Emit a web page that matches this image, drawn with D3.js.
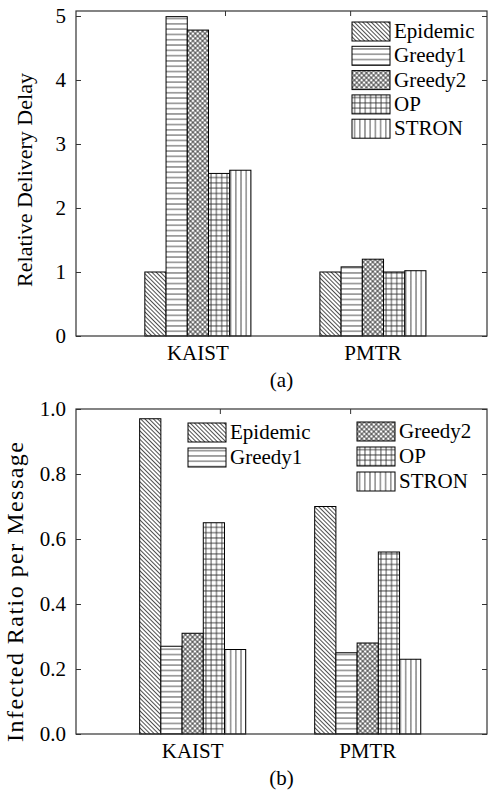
<!DOCTYPE html>
<html>
<head>
<meta charset="utf-8">
<script src="https://cdn.jsdelivr.net/npm/d3@7"></script>
<style>
  body { margin: 0; background: #fff; }
  svg text { font-family: "Liberation Serif", "Times New Roman", Times, serif; fill: #000; }
</style>
</head>
<body>
<div id="chart"></div>
<script>
// data
var categories = ["KAIST", "PMTR"];
var seriesNames = ["Epidemic", "Greedy1", "Greedy2", "OP", "STRON"];

var delayKAIST = [1.0, 4.99, 4.78, 2.54, 2.59];
var delayPMTR = [1.0, 1.08, 1.2, 1.0, 1.02];
var delayTicks = [0, 1, 2, 3, 4, 5];

var infectedKAIST = [0.97, 0.27, 0.31, 0.65, 0.26];
var infectedPMTR = [0.70, 0.25, 0.28, 0.56, 0.23];
var infectedTicks = [0, 0.2, 0.4, 0.6, 0.8, 1.0];

var fontStack = "'Liberation Serif', 'Times New Roman', Times, serif";

var svgWidth = 488;
var svgHeight = 792;

var svg = d3.select("#chart").append("svg")
  .attr("width", svgWidth)
  .attr("height", svgHeight)
  .attr("font-family", fontStack);

// hatch patterns, one per series
var defs = svg.append("defs");
var hatchColor = "#222";

function linePattern(id, size, angle, lines) {
  var p = defs.append("pattern")
    .attr("id", id)
    .attr("patternUnits", "userSpaceOnUse")
    .attr("width", size)
    .attr("height", size)
    .attr("patternTransform", "rotate(" + angle + ")");
  p.append("rect").attr("width", size).attr("height", size).attr("fill", "#fff");
  lines.forEach(function(l) {
    p.append("line")
      .attr("x1", l[0] * size).attr("y1", l[1] * size)
      .attr("x2", l[2] * size).attr("y2", l[3] * size)
      .attr("stroke", hatchColor)
      .attr("stroke-width", 0.8);
  });
}

// Epidemic: "\\\" diagonals
linePattern("pat0", 3, -45, [[0.5, 0, 0.5, 1]]);
// Greedy1: horizontal lines
linePattern("pat1", 5.3, 0, [[0, 0.5, 1, 0.5]]);
// Greedy2: diagonal cross hatch
linePattern("pat2", 3.4, 45, [[0.5, 0, 0.5, 1], [0, 0.5, 1, 0.5]]);
// OP: square grid
linePattern("pat3", 5.3, 0, [[0.5, 0, 0.5, 1], [0, 0.5, 1, 0.5]]);
// STRON: vertical lines
linePattern("pat4", 5.2, 0, [[0.5, 0, 0.5, 1]]);

function drawPanel(cfg) {
  var left = 76, right = 487;
  var width = right - left;
  var g = svg.append("g");

  var yScale = d3.scaleLinear()
    .domain(cfg.yDomain)
    .range([cfg.bottom, cfg.top]);

  var xOuter = d3.scaleBand()
    .domain(categories)
    .range([left, right])
    .paddingInner(0.394)
    .paddingOuter(0.371)
    .align(cfg.align);

  var xInner = d3.scaleBand()
    .domain(seriesNames)
    .range([0, xOuter.bandwidth()]);

  // decorative x ticks (top and bottom)
  var xTickScale = d3.scaleLinear().domain([0, 1]).range([left, right]);
  g.append("g")
    .attr("transform", "translate(0," + cfg.top + ")")
    .call(d3.axisBottom(xTickScale).tickValues(cfg.xTicks).tickSize(5).tickFormat(""))
    .call(function(s) { s.select(".domain").remove(); })
    .selectAll("line").attr("stroke", "#333");
  g.append("g")
    .attr("transform", "translate(0," + cfg.bottom + ")")
    .call(d3.axisTop(xTickScale).tickValues(cfg.xTicks).tickSize(5).tickFormat(""))
    .call(function(s) { s.select(".domain").remove(); })
    .selectAll("line").attr("stroke", "#333");

  // bars
  var groups = g.selectAll(".group")
    .data(categories)
    .enter()
    .append("g")
    .attr("transform", function(c) { return "translate(" + xOuter(c) + ",0)"; });

  groups.selectAll("rect")
    .data(function(c, ci) {
      return cfg.values[ci].map(function(v, i) { return { name: seriesNames[i], value: v, idx: i }; });
    })
    .enter()
    .append("rect")
    .attr("x", function(d) { return xInner(d.name); })
    .attr("y", function(d) { return yScale(d.value); })
    .attr("width", xInner.bandwidth())
    .attr("height", function(d) { return cfg.bottom - yScale(d.value); })
    .attr("fill", function(d) { return "url(#pat" + d.idx + ")"; })
    .attr("stroke", "#000")
    .attr("stroke-width", 1);

  // left axis
  var leftAxis = d3.axisLeft(yScale)
    .tickValues(cfg.yTicks)
    .tickSizeInner(-5)
    .tickSizeOuter(0)
    .tickPadding(10)
    .tickFormat(cfg.format);
  var ya = g.append("g")
    .attr("transform", "translate(" + left + ",0)")
    .call(leftAxis)
    .attr("font-family", fontStack)
    .attr("font-size", 21);
  ya.select(".domain").remove();
  ya.selectAll("line").attr("stroke", "#333");

  // right axis (mirror ticks)
  var ra = g.append("g")
    .attr("transform", "translate(" + right + ",0)")
    .call(d3.axisRight(yScale).tickValues(cfg.yTicks).tickSizeInner(-5).tickSizeOuter(0).tickFormat(""));
  ra.select(".domain").remove();
  ra.selectAll("line").attr("stroke", "#333");

  // frame
  g.append("rect")
    .attr("x", left)
    .attr("y", cfg.top)
    .attr("width", width)
    .attr("height", cfg.bottom - cfg.top)
    .attr("fill", "none")
    .attr("stroke", "#333")
    .attr("stroke-width", 1.2);

  // category labels
  g.selectAll(".cat")
    .data(categories)
    .enter()
    .append("text")
    .attr("x", function(c) { return xOuter(c) + xOuter.bandwidth() / 2; })
    .attr("y", cfg.bottom + 24)
    .attr("text-anchor", "middle")
    .attr("font-size", 21)
    .text(function(c) { return c; });

  // caption
  g.append("text")
    .attr("x", (left + right) / 2)
    .attr("y", cfg.bottom + 51)
    .attr("text-anchor", "middle")
    .attr("font-size", 21)
    .text(cfg.caption);

  // y label
  var yl = g.append("text")
    .attr("transform", "translate(" + cfg.labelX + "," + cfg.labelY + ") rotate(-90)")
    .attr("text-anchor", "middle")
    .attr("font-size", cfg.labelSize)
    .text(cfg.yLabel);
  if (cfg.labelLength) {
    yl.attr("textLength", cfg.labelLength).attr("lengthAdjust", "spacing");
  }

  // legend
  var legend = g.selectAll(".legend")
    .data(seriesNames)
    .enter()
    .append("g")
    .attr("transform", function(d, i) {
      var p = cfg.legendPos(i);
      return "translate(" + p[0] + "," + p[1] + ")";
    });
  legend.append("rect")
    .attr("width", 38)
    .attr("height", 19)
    .attr("fill", function(d, i) { return "url(#pat" + i + ")"; })
    .attr("stroke", "#000")
    .attr("stroke-width", 1);
  legend.append("text")
    .attr("x", 42)
    .attr("y", 16)
    .attr("font-size", 21)
    .text(function(d) { return d; });
}

drawPanel({
  top: 11,
  bottom: 336,
  yDomain: [0, 5.078],
  yTicks: delayTicks,
  format: d3.format("d"),
  values: [delayKAIST, delayPMTR],
  align: 0.53,
  xTicks: [0.3625, 0.667],
  caption: "(a)",
  yLabel: "Relative Delivery Delay",
  labelX: 32,
  labelY: 180,
  labelSize: 22,
  legendPos: function(i) { return [352, 22 + i * 24.3]; }
});

drawPanel({
  top: 409,
  bottom: 734,
  yDomain: [0, 1],
  yTicks: infectedTicks,
  format: d3.format(".1f"),
  values: [infectedKAIST, infectedPMTR],
  align: 0.49,
  xTicks: [0.35, 0.667],
  caption: "(b)",
  yLabel: "Infected Ratio per Message",
  labelX: 23,
  labelY: 592,
  labelSize: 24,
  labelLength: 300,
  legendPos: function(i) {
    if (i < 2) return [188, 423 + i * 25];
    return [357, 422 + (i - 2) * 25];
  }
});
</script>
</body>
</html>
